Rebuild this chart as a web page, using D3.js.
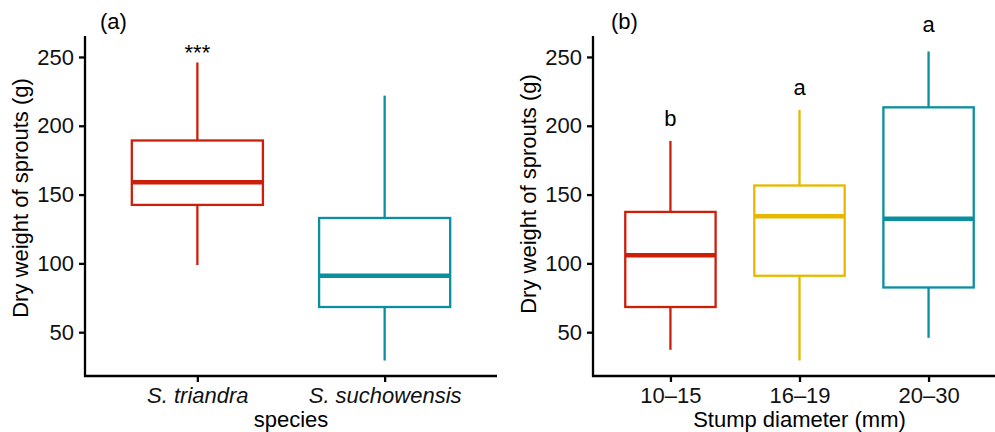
<!DOCTYPE html>
<html>
<head>
<meta charset="utf-8">
<script src="https://cdn.jsdelivr.net/npm/d3@7"></script>
<style>
  body { margin: 0; background: #fff; }
  svg { display: block; font-family: "Liberation Sans", Arial, sans-serif; }
</style>
</head>
<body>
<div id="chart"></div>
<script>
// panel (a): species
const speciesGroups = ["S. triandra", "S. suchowensis"];
const speciesLow = [98.8, 29.4];
const speciesQ1 = [142.5, 68.3];
const speciesMedian = [159, 91];
const speciesQ3 = [189.3, 133];
const speciesHigh = [246, 221.9];
const speciesLabels = ["***", ""];
const speciesLabelY = [247.5, 0];

// panel (b): stump diameter
const diameterGroups = ["10–15", "16–19", "20–30"];
const diameterLow = [37.2, 29.4, 45.9];
const diameterQ1 = [68.3, 91, 82.5];
const diameterMedian = [106, 134.2, 132.5];
const diameterQ3 = [137.4, 156.6, 213.4];
const diameterHigh = [189, 211.5, 254];
const diameterLabels = ["b", "a", "a"];
const diameterLabelY = [200, 222, 268];

const yTicks = [50, 100, 150, 200, 250];

const speciesColors = ["#cc1f0a", "#0b8fa0"];
const diameterColors = ["#cc1f0a", "#e6b800", "#0b8fa0"];

const fontSize = 22;
const width = 995, height = 432;
const svg = d3.select("#chart").append("svg")
    .attr("width", width)
    .attr("height", height);

// shared y scale, ggplot style 5% expansion around the data
const allVals = speciesLow.concat(speciesHigh, diameterLow, diameterHigh);
const [yMin, yMax] = d3.extent(allVals);
const pad = (yMax - yMin) * 0.05;

function drawPanel(cfg) {
    const n = cfg.groups.length;
    const rows = cfg.groups.map((g, i) => ({
        key: g, low: cfg.low[i], q1: cfg.q1[i], med: cfg.median[i],
        q3: cfg.q3[i], high: cfg.high[i], color: cfg.colors[i],
        label: cfg.labels[i], labelY: cfg.labelY[i]
    }));

    const x = d3.scaleLinear()
        .domain([0.4, n + 0.6])
        .range([cfg.left, cfg.left + cfg.plotWidth]);
    const y = d3.scaleLinear()
        .domain([yMin - pad, yMax + pad])
        .range([376, 36]);
    const bw = (x(1) - x(0)) * 0.7;

    const g = svg.append("g");

    // whiskers
    g.selectAll(".whisker-hi").data(rows).join("line")
        .attr("x1", (d, i) => x(i + 1)).attr("x2", (d, i) => x(i + 1))
        .attr("y1", d => y(d.q3)).attr("y2", d => y(d.high))
        .attr("stroke", d => d.color).attr("stroke-width", 2.3);
    g.selectAll(".whisker-lo").data(rows).join("line")
        .attr("x1", (d, i) => x(i + 1)).attr("x2", (d, i) => x(i + 1))
        .attr("y1", d => y(d.q1)).attr("y2", d => y(d.low))
        .attr("stroke", d => d.color).attr("stroke-width", 2.3);

    // boxes
    g.selectAll(".box").data(rows).join("rect")
        .attr("x", (d, i) => x(i + 1) - bw / 2)
        .attr("width", bw)
        .attr("y", d => y(d.q3))
        .attr("height", d => y(d.q1) - y(d.q3))
        .attr("fill", "#fff")
        .attr("stroke", d => d.color).attr("stroke-width", 2.3);

    // medians
    g.selectAll(".median").data(rows).join("line")
        .attr("x1", (d, i) => x(i + 1) - bw / 2).attr("x2", (d, i) => x(i + 1) + bw / 2)
        .attr("y1", d => y(d.med)).attr("y2", d => y(d.med))
        .attr("stroke", d => d.color).attr("stroke-width", 4.5);

    // significance letters
    g.selectAll(".sig").data(rows.filter(d => d.label)).join("text")
        .attr("x", d => x(rows.indexOf(d) + 1))
        .attr("y", d => y(d.labelY))
        .attr("text-anchor", "middle")
        .attr("font-size", fontSize)
        .attr("fill", "#000")
        .text(d => d.label);

    // y axis
    const yAxis = d3.axisLeft(y).tickValues(yTicks).tickSize(6).tickPadding(5);
    const yG = g.append("g")
        .attr("transform", `translate(${cfg.left},0)`)
        .call(yAxis);
    yG.select(".domain").attr("stroke-width", 2.3).attr("d", `M0,377V36`);
    yG.selectAll(".tick line").attr("stroke-width", 2.3);
    yG.selectAll(".tick text").attr("font-size", fontSize).attr("fill", "#111")
        .attr("font-family", "Liberation Sans, Arial, sans-serif");

    // x axis
    const xAxis = d3.axisBottom(x)
        .tickValues(d3.range(1, n + 1))
        .tickFormat(i => cfg.groups[i - 1])
        .tickSize(6).tickPadding(5);
    const xG = g.append("g")
        .attr("transform", "translate(0,376)")
        .call(xAxis);
    xG.select(".domain").attr("stroke-width", 2.3)
        .attr("d", `M${cfg.left - 1},0H${cfg.left + cfg.plotWidth}`);
    xG.selectAll(".tick line").attr("stroke-width", 2.3);
    xG.selectAll(".tick text").attr("font-size", fontSize).attr("fill", "#111")
        .attr("font-family", "Liberation Sans, Arial, sans-serif")
        .attr("font-style", cfg.italic ? "italic" : "normal");

    // axis titles
    g.append("text")
        .attr("transform", `translate(${cfg.left - 57.5},${cfg.yTitleY}) rotate(-90)`)
        .attr("text-anchor", "middle")
        .attr("font-size", fontSize)
        .text("Dry weight of sprouts (g)");
    g.append("text")
        .attr("x", cfg.left + cfg.plotWidth / 2)
        .attr("y", 427)
        .attr("text-anchor", "middle")
        .attr("font-size", fontSize)
        .text(cfg.xTitle);

    // panel tag
    g.append("text")
        .attr("x", cfg.left + cfg.tagDx)
        .attr("y", 29)
        .attr("font-size", fontSize)
        .text(cfg.tag);
}

drawPanel({
    groups: speciesGroups, low: speciesLow, q1: speciesQ1, median: speciesMedian,
    q3: speciesQ3, high: speciesHigh, colors: speciesColors,
    labels: speciesLabels, labelY: speciesLabelY,
    left: 85, plotWidth: 412, italic: true, xTitle: "species",
    tag: "(a)", tagDx: 15, yTitleY: 198
});

drawPanel({
    groups: diameterGroups, low: diameterLow, q1: diameterQ1, median: diameterMedian,
    q3: diameterQ3, high: diameterHigh, colors: diameterColors,
    labels: diameterLabels, labelY: diameterLabelY,
    left: 593, plotWidth: 413, italic: false, xTitle: "Stump diameter (mm)",
    tag: "(b)", tagDx: 18, yTitleY: 194
});
</script>
</body>
</html>
